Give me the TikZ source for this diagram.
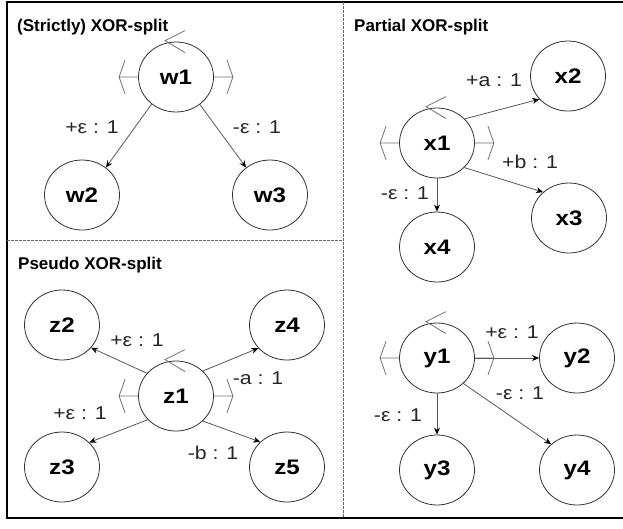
\documentclass[tikz,border=0pt]{standalone}
\usepackage{fontspec}
\setmainfont{Liberation Sans}
\newfontfamily\widefont[FakeStretch=1.15]{Liberation Sans}
\usetikzlibrary{shapes.geometric, arrows.meta}

% three split markers around a branching state: left, right and top
\newcommand\xormarks[1]{%
  \draw[chev] (#1.west) -- ++(-19,0) -- ++(6,-17) ++(-6,17) -- ++(6,17);
  \draw[chev] (#1.east) -- ++(19,0) -- ++(-6,-17) ++(6,17) -- ++(-6,17);
  \draw[chev] ([xshift=9pt,yshift=11pt]#1.north) -- ([xshift=-11pt,yshift=1pt]#1.north)
              -- ([xshift=9pt,yshift=-11pt]#1.north);
}

\begin{document}
\begin{tikzpicture}[x=1pt,y=-1pt,
  state/.style={ellipse, draw=black!80, line width=0.8pt, minimum width=75pt,
    minimum height=70pt, inner sep=0pt, font=\widefont\bfseries\fontsize{21}{21}\selectfont},
  flow/.style={draw=black!65, line width=0.8pt, -{Stealth[length=7pt,width=6pt,black]}},
  chev/.style={draw=black!55, line width=0.8pt},
  elabel/.style={font=\widefont\fontsize{18.5}{18.5}\selectfont, inner sep=0pt, text=black!85},
  title/.style={font=\bfseries\fontsize{17}{17}\selectfont, anchor=west, inner sep=0pt},
  divider/.style={draw=black!60, line width=0.6pt, dash pattern=on 2.5pt off 1.5pt}
]
\useasboundingbox (0,0) rectangle (623,528);
\fill[white] (0,0) rectangle (623,528);
\begin{scope}
\clip (0,0) rectangle (623,528);
\draw[line width=1.2pt] (7,2) rectangle (640,518);
\end{scope}
\draw[divider] (343,2) -- (343,518);
\draw[divider] (7,240) -- (343,240);

% titles
\node[title] (t1) at (17,27) {(Strictly) XOR-split};
\node[title] (t2) at (354,27) {Partial XOR-split};
\node[title] (t3) at (18,265) {Pseudo XOR-split};

% strictly XOR-split
\node[state] (w1) at (176,77) {w1};
\node[state] (w2) at (82,195) {w2};
\node[state] (w3) at (270,195) {w3};
\xormarks{w1}
\draw[flow] (w1.228) -- (w2.49);
\draw[flow] (w1.311) -- (w3.131);
\node[elabel] (lw2) at (92,127) {+ε : 1};
\node[elabel] (lw3) at (257,127) {-ε : 1};

% partial XOR-split
\node[state] (x1) at (437,143) {x1};
\node[state] (x2) at (568,76) {x2};
\node[state] (x3) at (569,218) {x3};
\node[state] (x4) at (437,247) {x4};
\xormarks{x1}
\draw[flow] (x1.41) -- (x2.219);
\draw[flow] (x1.318) -- (x3.135);
\draw[flow] (x1.south) -- (x4.north);
\node[elabel] (lx2) at (494,80) {+a : 1};
\node[elabel] (lx3) at (530,162) {+b : 1};
\node[elabel] (lx4) at (405,193) {-ε : 1};

% second partial XOR-split
\node[state] (y1) at (437,358) {y1};
\node[state] (y2) at (577,358) {y2};
\node[state] (y3) at (437,470) {y3};
\node[state] (y4) at (577,470) {y4};
\xormarks{y1}
\draw[flow] (y1.east) -- (y2.west);
\draw[flow] (y1.south) -- (y3.north);
\draw[flow] (y1.316) -- (y4.135);
\node[elabel] (ly2) at (512,332) {+ε : 1};
\node[elabel] (ly4) at (520,393) {-ε : 1};
\node[elabel] (ly3) at (398,415) {-ε : 1};

% pseudo XOR-split
\node[state] (z1) at (176,396) {z1};
\node[state] (z2) at (62,325) {z2};
\node[state] (z4) at (287,325) {z4};
\node[state] (z3) at (62,467) {z3};
\node[state] (z5) at (287,467) {z5};
\xormarks{z1}
\draw[flow] (z1.142) -- (z2.322);
\draw[flow] (z1.43) -- (z4.219);
\draw[flow] (z1.220) -- (z3.42);
\draw[flow] (z1.317) -- (z5.137);
\node[elabel] (lz2) at (137,340) {+ε : 1};
\node[elabel] (lz4) at (258,378) {-a : 1};
\node[elabel] (lz3) at (80,413) {+ε : 1};
\node[elabel] (lz5) at (213,453) {-b : 1};
\end{tikzpicture}
\end{document}
